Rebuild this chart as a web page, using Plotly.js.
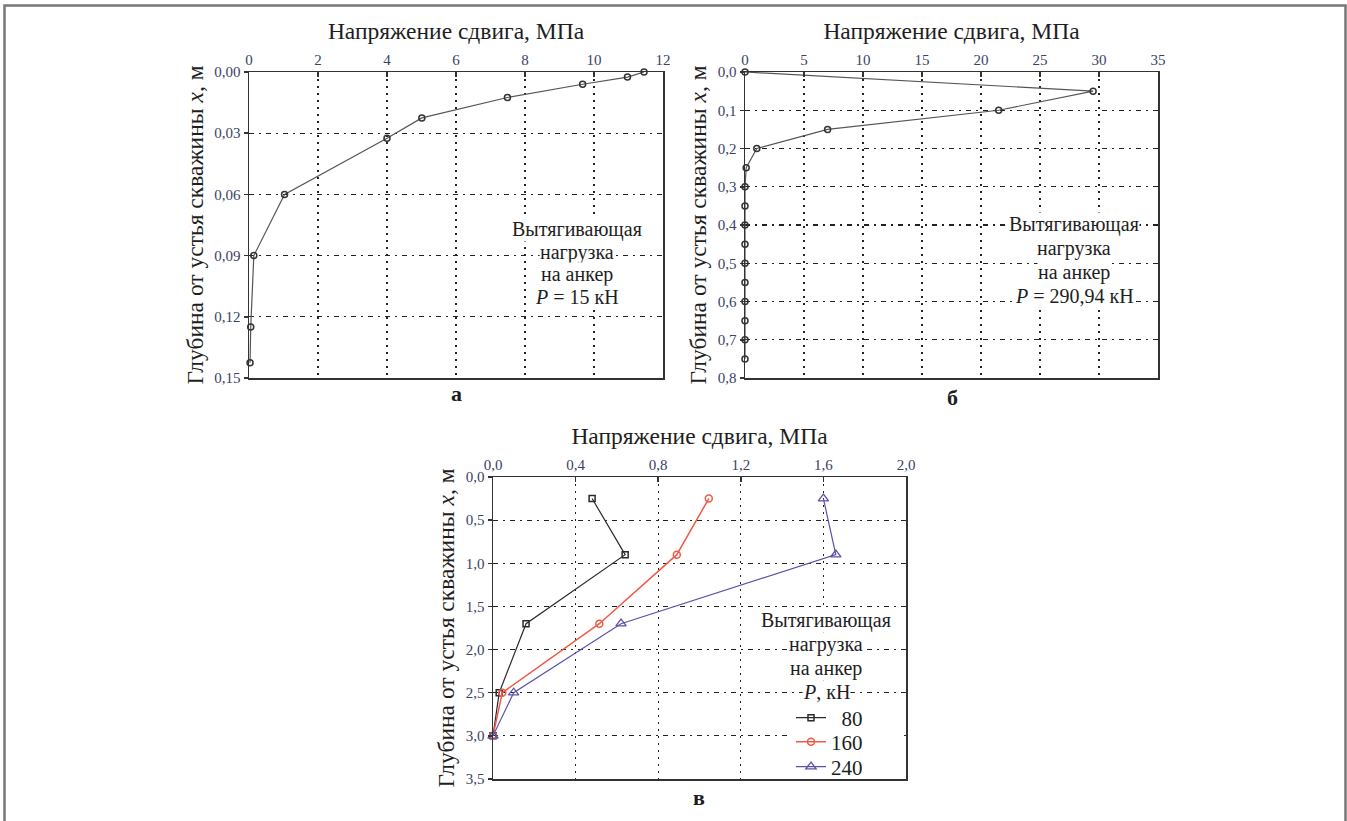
<!DOCTYPE html>
<html>
<head>
<meta charset="utf-8">
<script src="https://cdn.plot.ly/plotly-3.0.1.min.js"></script>
<style>
html,body{margin:0;padding:0;background:#fff;}
#chart{width:1347px;height:821px;}
</style>
</head>
<body>
<div id="chart"></div>
<script>
// Panel а: P = 15 kN
const aStress = [11.45, 10.97, 9.67, 7.49, 5.01, 4.0, 1.03, 0.14, 0.05, 0.03];
const aDepth  = [0.0, 0.0025, 0.006, 0.0125, 0.0225, 0.0325, 0.06, 0.09, 0.125, 0.1425];

// Panel б: P = 290,94 kN
const bStress = [0, 29.5, 21.5, 7.0, 1.0, 0.1, 0, 0, 0, 0, 0, 0, 0, 0, 0, 0];
const bDepth  = [0, 0.05, 0.10, 0.15, 0.20, 0.25, 0.30, 0.35, 0.40, 0.45, 0.50, 0.55, 0.60, 0.65, 0.70, 0.75];

// Panel в: P = 80, 160, 240 kN
const cDepth  = [0.25, 0.9, 1.7, 2.5, 3.0];
const c80     = [0.48, 0.64, 0.16, 0.03, 0.0];
const c160    = [1.045, 0.89, 0.515, 0.045, 0.0];
const c240    = [1.6, 1.66, 0.62, 0.10, 0.0];
const cNames  = ['\u200280', '160', '240'];

const W = 1347, H = 821;
const px = v => v / W;
const py = v => 1 - v / H;

const FONT = 'Liberation Serif';
const TICKCOL = '#3a4266';
const TXT = '#1e1e1e';
const GRIDC = '#222222';
const TITLESIZE = 23.5;

function xAxis(domain, range, dtick, fmt, anchor) {
  return {
    domain: domain, range: range, dtick: dtick, tick0: 0, tickformat: fmt,
    side: 'top', anchor: anchor,
    showline: true, mirror: true, linecolor: '#333', linewidth: 1.5,
    ticks: 'inside', ticklen: 5, tickcolor: '#333', tickwidth: 1.5,
    showgrid: true, gridcolor: GRIDC, gridwidth: 1.4, griddash: '2px,5px',
    zeroline: false,
    tickfont: {family: FONT, size: 15, color: TICKCOL},
    title: {text: 'Напряжение сдвига, МПа', font: {family: FONT, size: TITLESIZE, color: TXT}, standoff: 5}
  };
}
function yAxis(domain, range, dtick, fmt, anchor, standoff) {
  return {
    domain: domain, range: range, dtick: dtick, tick0: 0, tickformat: fmt,
    anchor: anchor,
    showline: true, mirror: true, linecolor: '#333', linewidth: 1.5,
    ticks: 'outside', ticklen: 4, tickcolor: '#333', tickwidth: 1.5,
    showgrid: true, gridcolor: GRIDC, gridwidth: 1.2, griddash: '5px,5px,2px,5px',
    zeroline: false,
    tickfont: {family: FONT, size: 15, color: TICKCOL},
    title: {text: 'Глубина от устья скважины <i>x</i>, м', font: {family: FONT, size: TITLESIZE, color: TXT}, standoff: standoff}
  };
}

const greyMarker = {symbol: 'circle-open', size: 6, color: '#333', line: {width: 1.5, color: '#333'}};

const traces = [
  {x: aStress, y: aDepth, xaxis: 'x', yaxis: 'y', mode: 'lines+markers', showlegend: false,
   line: {color: '#555', width: 1.2}, marker: greyMarker, cliponaxis: false},
  {x: bStress, y: bDepth, xaxis: 'x2', yaxis: 'y2', mode: 'lines+markers', showlegend: false,
   line: {color: '#555', width: 1.2}, marker: greyMarker, cliponaxis: false},
  {x: c80, y: cDepth, xaxis: 'x3', yaxis: 'y3', mode: 'lines+markers', name: cNames[0], legend: 'legend',
   line: {color: '#2a2a2a', width: 1.2},
   marker: {symbol: 'square-open', size: 6, color: '#2a2a2a', line: {width: 1.5, color: '#2a2a2a'}}, cliponaxis: false},
  {x: c160, y: cDepth, xaxis: 'x3', yaxis: 'y3', mode: 'lines+markers', name: cNames[1], legend: 'legend2',
   line: {color: '#f05a48', width: 1.5},
   marker: {symbol: 'circle-open', size: 7, color: '#f05a48', line: {width: 1.5, color: '#f05a48'}}, cliponaxis: false},
  {x: c240, y: cDepth, xaxis: 'x3', yaxis: 'y3', mode: 'lines+markers', name: cNames[2], legend: 'legend3',
   line: {color: '#5a52a8', width: 1.2},
   marker: {symbol: 'triangle-up-open', size: 9, color: '#5a52a8', line: {width: 1.3, color: '#5a52a8'}}, cliponaxis: false}
];

function block(lines, cx, ys) {
  return lines.map((t, i) => ({
    text: t, xref: 'paper', yref: 'paper', x: px(cx), y: py(ys[i]),
    xanchor: 'center', yanchor: 'middle', showarrow: false,
    bgcolor: '#ffffff', borderpad: 0,
    font: {family: FONT, size: 20, color: TXT}
  }));
}
function panelLabel(t, cx, cy) {
  return {text: '<b>' + t + '</b>', xref: 'paper', yref: 'paper', x: px(cx), y: py(cy),
    xanchor: 'center', yanchor: 'middle', showarrow: false, font: {family: FONT, size: 22, color: TXT}};
}

const annotations = [].concat(
  block(['Вытягивающая', 'нагрузка', 'на анкер', '<i>P</i> = 15 кН'], 577, [230, 252.3, 274.6, 297]),
  block(['Вытягивающая', 'нагрузка', 'на анкер', '<i>P</i> = 290,94 кН'], 1074, [225, 248.5, 272, 296]),
  block(['Вытягивающая', 'нагрузка', 'на анкер', '<i>P</i>, кН'], 826, [620, 644, 668, 692]),
  [panelLabel('а', 456, 393), panelLabel('б', 952, 397), panelLabel('в', 699, 797)]
);

function leg(yc) {
  return {
    x: px(791), y: py(yc), xanchor: 'left', yanchor: 'middle',
    bgcolor: 'rgba(0,0,0,0)', borderwidth: 0,
    font: {family: FONT, size: 21, color: TXT},
    itemwidth: 30
  };
}

const layout = {
  width: W, height: H,
  margin: {l: 0, r: 0, t: 0, b: 0},
  paper_bgcolor: '#fff', plot_bgcolor: '#fff',
  separators: ', ',
  font: {family: FONT, color: TXT},
  xaxis:  xAxis([px(249), px(663)], [0, 12], 2, '.0f', 'y'),
  yaxis:  yAxis([py(378), py(72)], [0.15, 0], 0.03, '.2f', 'x', 4),
  xaxis2: xAxis([px(745), px(1158)], [0, 35], 5, '.0f', 'y2'),
  yaxis2: yAxis([py(378), py(72)], [0.8, 0], 0.1, '.1f', 'x2', 4),
  xaxis3: xAxis([px(493), px(906)], [0, 2], 0.4, '.1f', 'y3'),
  yaxis3: yAxis([py(779), py(477)], [3.5, 0], 0.5, '.1f', 'x3', 4),
  showlegend: true,
  legend: leg(718),
  legend2: leg(742),
  legend3: leg(767),
  annotations: annotations,
  shapes: [
    {type: 'rect', xref: 'paper', yref: 'paper', x0: px(789), x1: px(904), y0: py(779), y1: py(706),
     line: {width: 0}, fillcolor: '#ffffff', layer: 'above'},
    {type: 'rect', xref: 'paper', yref: 'paper', x0: px(4.5), x1: px(1345.5), y0: py(830), y1: py(5.5),
     line: {color: '#777', width: 2.5}, fillcolor: 'rgba(0,0,0,0)'}
  ]
};

Plotly.newPlot('chart', traces, layout, {displayModeBar: false, staticPlot: true});
</script>
</body>
</html>
